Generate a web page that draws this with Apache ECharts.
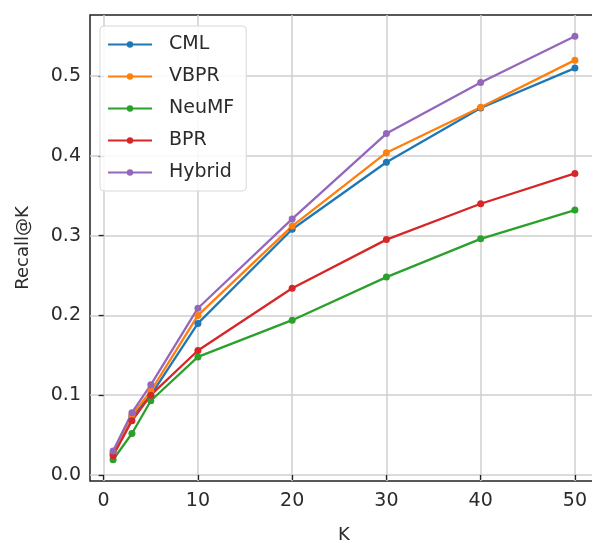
<!DOCTYPE html>
<html>
<head>
<meta charset="utf-8">
<script src="https://cdn.jsdelivr.net/npm/echarts@6/dist/echarts.min.js"></script>
<style>
html,body{margin:0;padding:0;background:#fff;}
#chart{width:592px;height:543px;}
</style>
</head>
<body>
<div id="chart"></div>
<script>
const K = [1, 3, 5, 10, 20, 30, 40, 50];
const CML = [0.027, 0.074, 0.100, 0.190, 0.308, 0.392, 0.460, 0.510];
const VBPR = [0.027, 0.075, 0.105, 0.200, 0.312, 0.404, 0.461, 0.520];
const NeuMF = [0.019, 0.052, 0.093, 0.148, 0.194, 0.248, 0.296, 0.332];
const BPR = [0.024, 0.068, 0.100, 0.156, 0.234, 0.295, 0.340, 0.378];
const Hybrid = [0.030, 0.078, 0.113, 0.209, 0.321, 0.428, 0.492, 0.550];
const xTicks = [0, 10, 20, 30, 40, 50];
const yTicks = [0.0, 0.1, 0.2, 0.3, 0.4, 0.5];

const seriesDefs = [
  ['CML', CML, '#1f77b4'],
  ['VBPR', VBPR, '#ff7f0e'],
  ['NeuMF', NeuMF, '#2ca02c'],
  ['BPR', BPR, '#d62728'],
  ['Hybrid', Hybrid, '#9467bd']
];
const FONT = 'DejaVu Sans';
const TXT = '#2b2b2b';
const chart = echarts.init(document.getElementById('chart'), null, {renderer: 'canvas'});
chart.setOption({
  backgroundColor: '#fff',
  animation: false,
  grid: {left: 90, right: -6, top: 15, bottom: 62, containLabel: false, outerBoundsMode: 'none',
         show: true, borderColor: '#222', borderWidth: 1.5, backgroundColor: 'transparent'},
  legend: {
    orient: 'vertical', left: 100, top: 26,
    padding: [9, 12, 9, 7],
    itemWidth: 44, itemHeight: 8, itemGap: 13,
    backgroundColor: 'rgba(255,255,255,0.85)',
    borderColor: '#d8d8d8', borderWidth: 1, borderRadius: 4,
    textStyle: {fontFamily: FONT, fontSize: 19, color: TXT, padding: [0, 0, 0, 12]},
    data: seriesDefs.map(d => d[0])
  },
  xAxis: {
    type: 'value', min: -1.45, max: 52.45,
    name: 'K', nameLocation: 'middle', nameGap: 45,
    nameTextStyle: {fontFamily: FONT, fontSize: 18, color: TXT},
    axisLine: {show: false},
    axisTick: {show: true, length: 5, lineStyle: {color: '#222', width: 1.3}, customValues: xTicks},
    axisLabel: {fontFamily: FONT, fontSize: 19, color: TXT, margin: 11, customValues: xTicks, formatter: v => String(v)},
    splitLine: {show: true, lineStyle: {color: '#cfcfcf', width: 1.5}}
  },
  yAxis: {
    type: 'value', min: -0.0076, max: 0.5766,
    name: 'Recall@K', nameLocation: 'middle', nameGap: 58, nameRotate: 90,
    nameTextStyle: {fontFamily: FONT, fontSize: 18, color: TXT},
    axisLine: {show: false},
    axisTick: {show: true, length: 5, lineStyle: {color: '#222', width: 1.3}, customValues: yTicks},
    axisLabel: {fontFamily: FONT, fontSize: 19, color: TXT, margin: 9, customValues: yTicks, formatter: v => v.toFixed(1)},
    splitLine: {show: true, lineStyle: {color: '#cfcfcf', width: 1.5}}
  },
  series: seriesDefs.map(([name, vals, color]) => ({
    name: name, type: 'line',
    data: K.map((k, i) => [k, vals[i]]),
    symbol: 'circle', symbolSize: 7,
    itemStyle: {color: color},
    lineStyle: {color: color, width: 2.3},
    emphasis: {disabled: true}
  }))
});
</script>
</body>
</html>
